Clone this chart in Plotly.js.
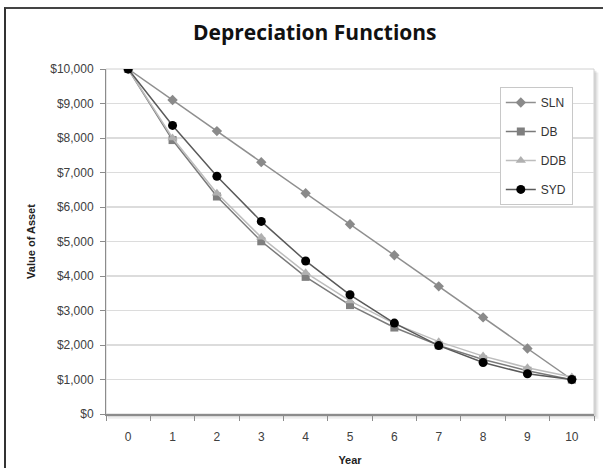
<!DOCTYPE html>
<html><head><meta charset="utf-8">
<script src="https://cdn.plot.ly/plotly-3.0.1.min.js"></script>
<style>
html,body{margin:0;padding:0;background:#fff;}
#wrap{position:relative;width:603px;height:468px;}
#chart{position:absolute;left:0;top:0;width:603px;height:468px;}
#frame{position:absolute;left:4px;top:7px;width:603px;height:470px;border-left:2px solid #333;border-top:2px solid #444;pointer-events:none;}
</style></head>
<body><div id="wrap"><div id="chart"></div><div id="frame"></div></div>
<script>
var years = [0,1,2,3,4,5,6,7,8,9,10];
var sln = [10000,9100,8200,7300,6400,5500,4600,3700,2800,1900,1000];
var db  = [10000,7940,6304,5006,3975,3156,2506,1990,1580,1254,996];
var ddb = [10000,8000,6400,5120,4096,3277,2621,2097,1678,1342,1074];
var syd = [10000,8364,6891,5582,4436,3455,2636,1982,1491,1164,1000];
var names = ['SLN','DB','DDB','SYD'];

function tr(y, name, lc, mc, sym, ms, grp){
  return {x: years, y: y, name: name, type:'scatter', mode:'lines+markers',
    legendgroup: grp,
    line:{color:lc, width:1.5},
    marker:{color:mc, symbol:sym, size:ms, line:{width:0}}};
}
var data = [
  tr(sln, names[0], '#8f8f8f', '#8a8a8a', 'diamond', 8, 'a'),
  tr(db,  names[1], '#7a7a7a', '#7f7f7f', 'square', 8, 'b'),
  tr(ddb, names[2], '#bdbdbd', '#b0b0b0', 'triangle-up', 9, 'c'),
  tr(syd, names[3], '#5a5a5a', '#000000', 'circle', 9, 'd')
];
var layout = {
  width:603, height:468,
  margin:{l:106, r:9, t:69, b:54},
  paper_bgcolor:'rgba(0,0,0,0)', plot_bgcolor:'#ffffff',
  font:{family:'Liberation Sans, Arial, sans-serif', color:'#404040', size:12},
  title:{text:'<b>Depreciation Functions</b>', x:0.522, xanchor:'center', y:0.93, yanchor:'middle',
    font:{size:21, color:'#111', family:'Open Sans, Liberation Sans, sans-serif'}},
  xaxis:{range:[-0.5,10.5], tickvals:years, ticktext:years.map(String), ticks:'', showgrid:false,
    zeroline:false, showline:true, linecolor:'#8c8c8c', linewidth:1.5, mirror:false,
    ticklabelstandoff:11, tickfont:{size:12, color:'#404040'},
    minor:{ticks:'outside', tick0:0.5, dtick:1, ticklen:5, tickcolor:'#8c8c8c', showgrid:false},
    title:{text:'<b>Year</b>', font:{size:11, color:'#222'}, standoff:13}},
  yaxis:{range:[0,10000], dtick:1000, tickprefix:'$', tickformat:',d', ticks:'outside', ticklen:5,
    tickcolor:'#8c8c8c', showgrid:true, gridcolor:'#dcdcdc', gridwidth:1.5, zeroline:false,
    showline:true, linecolor:'#8c8c8c', linewidth:1, ticklabelstandoff:4,
    tickfont:{size:12, color:'#404040'},
    title:{text:'<b>Value of Asset</b>', font:{size:11, color:'#222'}, standoff:12}},
  legend:{x:0.807, y:0.948, xanchor:'left', yanchor:'top', bgcolor:'#ffffff',
    bordercolor:'#c8c8c8', borderwidth:1, traceorder:'grouped', tracegroupgap:10,
    font:{size:12, color:'#333'}, itemwidth:30},
  shapes:[
    {type:'rect', xref:'paper', yref:'paper', layer:'below', x0:0.004, x1:1.009, y0:-0.014, y1:0.99,
      line:{width:0}, fillcolor:'rgba(0,0,0,0.07)'},
    {type:'rect', xref:'paper', yref:'paper', layer:'below', x0:0.002, x1:1.005, y0:-0.008, y1:0.995,
      line:{width:0}, fillcolor:'rgba(0,0,0,0.10)'},
    {type:'rect', xref:'paper', yref:'paper', layer:'below', x0:0, x1:1, y0:0, y1:1,
      line:{width:1, color:'#d0d0d0'}, fillcolor:'#ffffff'}
  ]
};
Plotly.newPlot('chart', data, layout, {displayModeBar:false, staticPlot:true});
</script></body></html>
